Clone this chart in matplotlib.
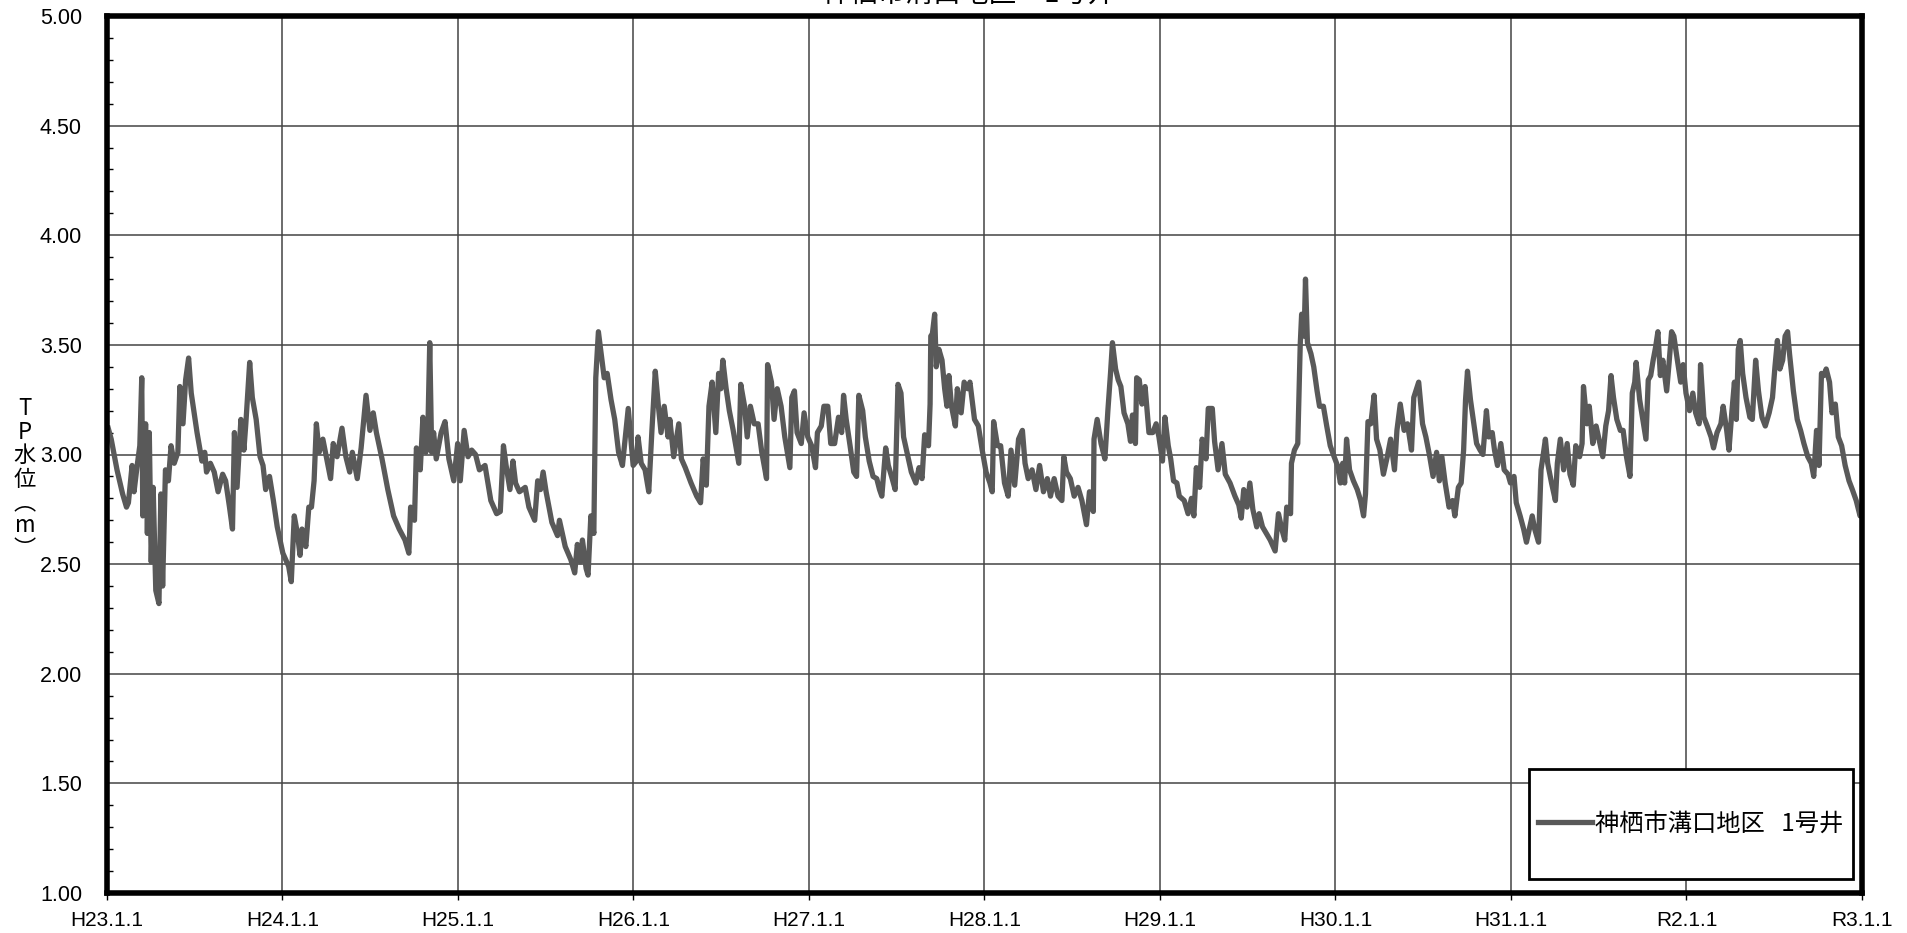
import matplotlib
matplotlib.use("Agg")
import matplotlib.pyplot as plt
from matplotlib.patches import Rectangle
from matplotlib.ticker import MultipleLocator

plt.rcParams['font.family'] = ['Liberation Sans', 'Noto Sans CJK JP', 'DejaVu Sans']

title = '神栖市溝口地区　1号井'
series_name = '神栖市溝口地区   1号井'
start_year = 2011
tick_labels = ['H23.1.1', 'H24.1.1', 'H25.1.1', 'H26.1.1', 'H27.1.1', 'H28.1.1',
               'H29.1.1', 'H30.1.1', 'H31.1.1', 'R2.1.1', 'R3.1.1']

# years elapsed since H23.1.1
t_offset = [
    0.007, 0.024, 0.057, 0.089, 0.111, 0.122, 0.143, 0.154, 0.172, 0.187, 0.198, 0.204,
    0.220, 0.230, 0.241, 0.252, 0.263, 0.278, 0.296, 0.307, 0.317, 0.333, 0.350, 0.365,
    0.383, 0.404, 0.415, 0.433, 0.448, 0.465, 0.480, 0.513, 0.541, 0.557, 0.567, 0.589,
    0.611, 0.633, 0.659, 0.676, 0.698, 0.715, 0.726, 0.741, 0.763, 0.780, 0.791, 0.813,
    0.828, 0.850, 0.872, 0.889, 0.904, 0.926, 0.948, 0.970, 1.002, 1.035, 1.050, 1.067,
    1.085, 1.100, 1.111, 1.133, 1.150, 1.165, 1.180, 1.193, 1.209, 1.230, 1.252, 1.274,
    1.289, 1.311, 1.339, 1.361, 1.383, 1.398, 1.426, 1.448, 1.476, 1.498, 1.517, 1.535,
    1.567, 1.600, 1.633, 1.665, 1.698, 1.720, 1.730, 1.752, 1.763, 1.785, 1.800, 1.817,
    1.828, 1.839, 1.850, 1.861, 1.876, 1.904, 1.926, 1.948, 1.976, 1.998, 2.013, 2.035,
    2.057, 2.078, 2.100, 2.122, 2.154, 2.187, 2.220, 2.241, 2.259, 2.274, 2.296, 2.313,
    2.328, 2.350, 2.383, 2.404, 2.437, 2.454, 2.470, 2.485, 2.502, 2.535, 2.567, 2.578,
    2.611, 2.643, 2.665, 2.680, 2.698, 2.709, 2.730, 2.741, 2.757, 2.774, 2.785, 2.800,
    2.817, 2.833, 2.850, 2.872, 2.893, 2.915, 2.937, 2.970, 2.998,
    3.017, 3.026, 3.044, 3.066, 3.087, 3.105, 3.124, 3.142, 3.157, 3.175, 3.197, 3.207,
    3.229, 3.258, 3.273, 3.295, 3.328, 3.360, 3.382, 3.397, 3.415, 3.430, 3.448, 3.469,
    3.485, 3.498, 3.509, 3.528, 3.546, 3.568, 3.600, 3.611, 3.633, 3.648, 3.666, 3.688,
    3.710, 3.731, 3.758, 3.764, 3.786, 3.801, 3.819, 3.841, 3.862, 3.891, 3.902, 3.917,
    3.932, 3.956, 3.972, 3.993, 4.015, 4.037, 4.048, 4.070, 4.085, 4.107, 4.124, 4.146,
    4.168, 4.186, 4.197, 4.212, 4.234, 4.255, 4.271, 4.284, 4.306, 4.321, 4.343, 4.365,
    4.386, 4.402, 4.415, 4.437, 4.452, 4.474, 4.491, 4.507, 4.524, 4.539, 4.561, 4.583,
    4.609, 4.627, 4.644, 4.659, 4.681, 4.690, 4.694, 4.703, 4.716, 4.725, 4.740, 4.758,
    4.773, 4.786, 4.797, 4.812, 4.834, 4.845, 4.867, 4.884, 4.904, 4.917, 4.926, 4.943,
    4.965, 4.987, 5.009, 5.031, 5.044, 5.052, 5.074, 5.092, 5.114, 5.135, 5.151, 5.172,
    5.194, 5.216, 5.231, 5.249, 5.271, 5.293, 5.314, 5.336, 5.358, 5.376, 5.397, 5.419,
    5.441, 5.452, 5.467, 5.489, 5.511, 5.533, 5.555, 5.581, 5.598, 5.620, 5.624, 5.642,
    5.664, 5.686, 5.703, 5.718, 5.729, 5.747, 5.762, 5.777, 5.795, 5.817, 5.832, 5.843,
    5.860, 5.867, 5.882, 5.897, 5.915, 5.937,
    5.959, 5.978, 5.994, 6.014, 6.028, 6.047, 6.061, 6.077, 6.096, 6.110, 6.138, 6.160,
    6.179, 6.193, 6.207, 6.226, 6.240, 6.262, 6.275, 6.298, 6.311, 6.331, 6.353, 6.372,
    6.399, 6.427, 6.449, 6.463, 6.477, 6.496, 6.512, 6.529, 6.551, 6.565, 6.584, 6.606,
    6.628, 6.656, 6.675, 6.694, 6.711, 6.722, 6.744, 6.749, 6.766, 6.785, 6.799, 6.807,
    6.821, 6.829, 6.840, 6.860, 6.876, 6.895, 6.909, 6.931, 6.950, 6.970, 6.992, 7.011,
    7.028, 7.041, 7.052, 7.063, 7.080, 7.102, 7.124, 7.143, 7.160, 7.171, 7.185, 7.201,
    7.220, 7.234, 7.253, 7.273, 7.295, 7.314, 7.336, 7.350, 7.369, 7.391, 7.410, 7.433,
    7.446, 7.474, 7.496, 7.515, 7.537, 7.556, 7.576, 7.592, 7.606, 7.625, 7.647, 7.667,
    7.680, 7.700, 7.716, 7.730, 7.741, 7.752, 7.769, 7.785, 7.804, 7.824, 7.840, 7.860,
    7.873, 7.893, 7.906, 7.923, 7.942, 7.961, 7.983, 7.997, 8.017, 8.030, 8.052, 8.072,
    8.088, 8.107, 8.121, 8.135, 8.157, 8.171, 8.182, 8.196, 8.209, 8.231, 8.253, 8.264,
    8.281, 8.300, 8.320, 8.336, 8.355, 8.369, 8.391, 8.405, 8.413, 8.433, 8.446, 8.466,
    8.485, 8.507, 8.523, 8.540, 8.556, 8.570, 8.584, 8.603, 8.623, 8.639, 8.658, 8.678,
    8.691, 8.705, 8.713, 8.733, 8.749, 8.769, 8.782, 8.796, 8.810, 8.824, 8.837, 8.851,
    8.865, 8.887, 8.901, 8.915, 8.928, 8.948, 8.967, 8.981, 8.997, 9.017, 9.036, 9.052,
    9.072, 9.080, 9.099, 9.118, 9.140, 9.154, 9.174, 9.196, 9.209, 9.229, 9.242, 9.259,
    9.273, 9.284, 9.295, 9.306, 9.320, 9.339, 9.361, 9.375, 9.394, 9.410, 9.430, 9.449,
    9.471, 9.490, 9.504, 9.518, 9.532, 9.548, 9.562, 9.576, 9.587, 9.609, 9.631, 9.650,
    9.669, 9.691, 9.711, 9.725, 9.741, 9.755, 9.769, 9.782, 9.796, 9.815, 9.829, 9.848,
    9.865, 9.884, 9.904, 9.926, 9.945, 9.967, 9.989, 10.000,
]

# TP water level (m)
tp_level = [
    3.12, 3.07, 2.93, 2.82, 2.76, 2.78, 2.95, 2.83, 2.95, 3.04, 3.35, 2.72,
    3.14, 2.64, 3.10, 2.51, 2.85, 2.38, 2.32, 2.82, 2.40, 2.93, 2.88, 3.04,
    2.96, 3.01, 3.31, 3.14, 3.34, 3.44, 3.28, 3.10, 2.97, 3.01, 2.92, 2.96,
    2.92, 2.83, 2.91, 2.88, 2.76, 2.66, 3.10, 2.85, 3.16, 3.02, 3.14, 3.42,
    3.26, 3.16, 2.99, 2.95, 2.84, 2.90, 2.79, 2.67, 2.55, 2.49, 2.42, 2.72,
    2.64, 2.54, 2.66, 2.58, 2.76, 2.76, 2.88, 3.14, 3.01, 3.07, 2.98, 2.89,
    3.05, 2.99, 3.12, 2.99, 2.92, 3.01, 2.89, 3.03, 3.27, 3.11, 3.19, 3.10,
    2.98, 2.84, 2.72, 2.66, 2.61, 2.55, 2.76, 2.70, 3.03, 2.93, 3.17, 3.01,
    3.10, 3.51, 3.01, 3.10, 2.98, 3.10, 3.15, 2.98, 2.88, 3.05, 2.88, 3.11,
    2.99, 3.02, 3.00, 2.93, 2.95, 2.79, 2.73, 2.74, 3.04, 2.95, 2.84, 2.97,
    2.87, 2.83, 2.85, 2.76, 2.70, 2.88, 2.84, 2.92, 2.83, 2.69, 2.63, 2.70,
    2.58, 2.52, 2.46, 2.59, 2.51, 2.61, 2.48, 2.45, 2.72, 2.64, 3.35, 3.56,
    3.45, 3.35, 3.37, 3.25, 3.16, 3.01, 2.95, 3.21, 2.95,
    2.97, 3.08, 2.96, 2.93, 2.83, 3.11, 3.38, 3.22, 3.10, 3.22, 3.08, 3.16,
    2.99, 3.14, 2.98, 2.94, 2.87, 2.81, 2.78, 2.98, 2.86, 3.22, 3.33, 3.10,
    3.37, 3.30, 3.43, 3.30, 3.20, 3.11, 2.96, 3.32, 3.22, 3.08, 3.22, 3.14,
    3.14, 3.01, 2.89, 3.41, 3.33, 3.16, 3.30, 3.22, 3.08, 2.94, 3.26, 3.29,
    3.10, 3.05, 3.19, 3.08, 3.04, 2.94, 3.10, 3.13, 3.22, 3.22, 3.05, 3.05,
    3.17, 3.10, 3.27, 3.16, 3.04, 2.92, 2.90, 3.27, 3.20, 3.08, 2.97, 2.90,
    2.89, 2.84, 2.81, 3.03, 2.95, 2.89, 2.84, 3.32, 3.28, 3.08, 3.00, 2.92,
    2.87, 2.94, 2.89, 3.09, 3.04, 3.23, 3.54, 3.55, 3.64, 3.40, 3.48, 3.43,
    3.30, 3.22, 3.36, 3.22, 3.13, 3.30, 3.19, 3.33, 3.30, 3.33, 3.27, 3.16,
    3.13, 3.02, 2.92, 2.87, 2.83, 3.15, 3.04, 3.04, 2.87, 2.81, 3.02, 2.86,
    3.07, 3.11, 2.96, 2.89, 2.93, 2.84, 2.95, 2.83, 2.89, 2.81, 2.89, 2.81,
    2.79, 2.99, 2.92, 2.89, 2.81, 2.85, 2.79, 2.68, 2.83, 2.74, 3.07, 3.16,
    3.05, 2.98, 3.20, 3.37, 3.51, 3.39, 3.34, 3.31, 3.19, 3.14, 3.06, 3.18,
    3.05, 3.35, 3.34, 3.23, 3.31, 3.10,
    3.10, 3.14, 3.08, 2.97, 3.17, 3.04, 2.98, 2.88, 2.87, 2.81, 2.79, 2.73,
    2.80, 2.72, 2.94, 2.85, 3.07, 2.98, 3.21, 3.21, 3.06, 2.93, 3.05, 2.91,
    2.87, 2.81, 2.77, 2.71, 2.84, 2.76, 2.87, 2.75, 2.67, 2.73, 2.67, 2.64,
    2.61, 2.56, 2.73, 2.66, 2.61, 2.76, 2.73, 2.96, 3.02, 3.05, 3.50, 3.64,
    3.54, 3.80, 3.51, 3.46, 3.40, 3.29, 3.22, 3.22, 3.13, 3.04, 2.99, 2.95,
    2.87, 2.96, 2.87, 3.07, 2.93, 2.88, 2.84, 2.79, 2.72, 2.82, 3.15, 3.14,
    3.27, 3.07, 3.02, 2.91, 2.99, 3.07, 2.93, 3.11, 3.23, 3.11, 3.14, 3.02,
    3.26, 3.33, 3.14, 3.08, 2.99, 2.90, 3.01, 2.88, 2.99, 2.87, 2.76, 2.79,
    2.72, 2.85, 2.87, 3.02, 3.25, 3.38, 3.25, 3.16, 3.05, 3.02, 3.00, 3.20,
    3.08, 3.10, 3.02, 2.95, 3.05, 2.93, 2.91, 2.87, 2.90, 2.78, 2.72, 2.66,
    2.60, 2.67, 2.72, 2.66, 2.60, 2.93, 2.99, 3.07, 2.96, 2.87, 2.79, 2.96,
    3.07, 2.93, 3.05, 2.91, 2.86, 3.04, 2.99, 3.05, 3.31, 3.14, 3.22, 3.05,
    3.13, 3.05, 2.99, 3.13, 3.20, 3.36, 3.26, 3.16, 3.11, 3.11, 2.99, 2.90,
    3.28, 3.33, 3.42, 3.25, 3.17, 3.07, 3.34, 3.36, 3.43, 3.49, 3.56, 3.36,
    3.43, 3.29, 3.42, 3.56, 3.54, 3.43, 3.33, 3.41, 3.28, 3.20, 3.28, 3.19,
    3.14, 3.41, 3.17, 3.13, 3.08, 3.03, 3.10, 3.14, 3.22, 3.11, 3.02, 3.20,
    3.33, 3.16, 3.48, 3.52, 3.37, 3.26, 3.17, 3.16, 3.43, 3.29, 3.17, 3.13,
    3.19, 3.26, 3.40, 3.52, 3.39, 3.43, 3.54, 3.56, 3.46, 3.29, 3.16, 3.11,
    3.05, 2.99, 2.96, 2.90, 3.11, 2.95, 3.37, 3.36, 3.39, 3.33, 3.19, 3.23,
    3.08, 3.04, 2.95, 2.88, 2.84, 2.79, 2.72, 2.75,
]

W, H = 1907, 933
fig = plt.figure(figsize=(W / 100, H / 100), dpi=100)
ax = fig.add_axes([107 / W, 1 - 893 / H, (1862 - 107) / W, (893 - 16) / H])

x = [start_year + t for t in t_offset]
ax.plot(x, tp_level, color='#595959', lw=3.8, solid_joinstyle='round', zorder=3,
        label=series_name)

ax.set_xlim(start_year, start_year + 10)
ax.set_ylim(1.0, 5.0)
ax.set_xticks([start_year + i for i in range(len(tick_labels))])
ax.set_xticklabels(tick_labels)
ax.yaxis.set_major_locator(MultipleLocator(0.5))
ax.yaxis.set_minor_locator(MultipleLocator(0.1))
ax.yaxis.set_major_formatter(plt.FormatStrFormatter('%.2f'))

ax.grid(True, which='major', color='#444444', lw=1.1, zorder=1)
ax.tick_params(axis='y', which='major', direction='in', length=0, pad=18, labelsize=15.5)
ax.tick_params(axis='y', which='minor', direction='in', length=4, width=1)
ax.tick_params(axis='x', which='major', direction='out', length=5, width=1, pad=8,
               labelsize=15)
for s in ax.spines.values():
    s.set_linewidth(4)
    s.set_zorder(5)

# y label, stacked vertically
fig.text(25 / W, 1 - 479 / H, 'T\nP\n水\n位\n︵\nm\n︶', ha='center', va='center',
         fontsize=16, linespacing=1.02, family=['Noto Sans CJK JP', 'DejaVu Sans'])

# title, mostly cut off by the top edge
fig.text(968 / W, 1 - 10 / H, title, ha='center', va='bottom', fontsize=20,
         family=['Noto Sans CJK JP', 'DejaVu Sans'])

# legend box drawn inside the axes, legend text on top of it
box = Rectangle((1529 / W, 1 - 879 / H), (1853 - 1529) / W, (879 - 769) / H,
                transform=fig.transFigure, facecolor='white', edgecolor='black',
                lw=2, zorder=6, clip_on=False)
ax.add_patch(box)
leg = ax.legend(loc='center', bbox_to_anchor=(1691 / W, 1 - 824 / H),
                bbox_transform=fig.transFigure, frameon=False, handlelength=2.2,
                handletextpad=0.15, prop={'family': ['Noto Sans CJK JP'], 'size': 17.5})
leg.set_zorder(7)

fig.savefig('out.png', dpi=100)
